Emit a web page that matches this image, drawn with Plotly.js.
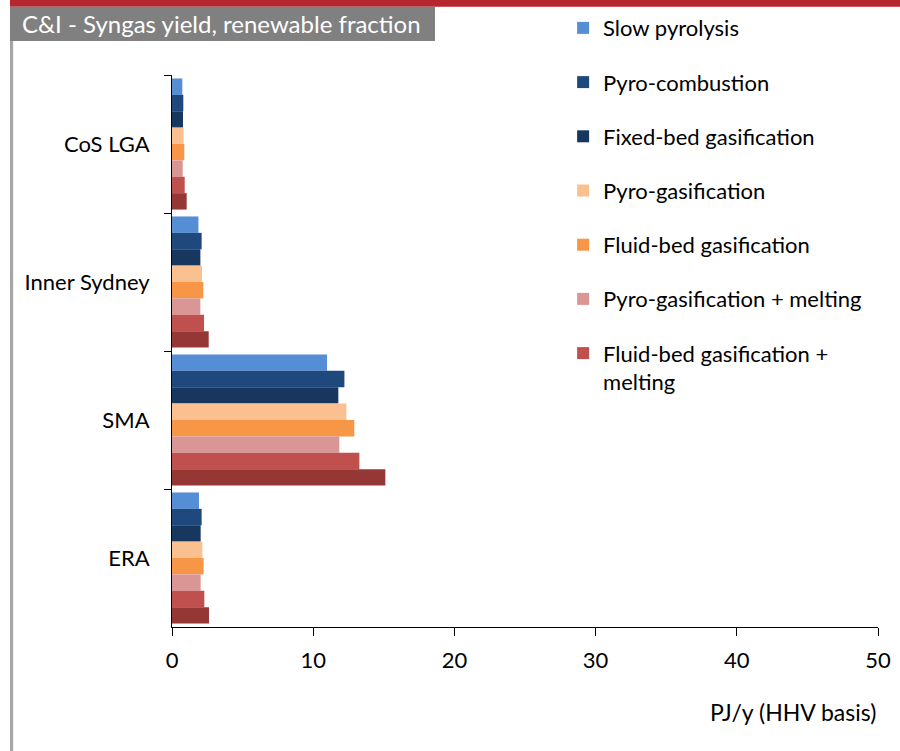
<!DOCTYPE html>
<html>
<head>
<meta charset="utf-8">
<script src="https://cdn.plot.ly/plotly-3.0.1.min.js"></script>
<style>html,body{margin:0;padding:0;background:#fff;}#chart{width:900px;height:751px;}</style>
</head>
<body>
<div id="chart"></div>
<script>
const categories = ["CoS LGA", "Inner Sydney", "SMA", "ERA"];
const seriesNames = [
  "Slow pyrolysis",
  "Pyro-combustion",
  "Fixed-bed gasification",
  "Pyro-gasification",
  "Fluid-bed gasification",
  "Pyro-gasification + melting",
  "Fluid-bed gasification +<br>melting",
  "Plasma gasification"
];
const slowPyrolysis      = [0.73, 1.87, 10.98, 1.91];
const pyroCombustion     = [0.80, 2.10, 12.21, 2.10];
const fixedBed           = [0.78, 2.01, 11.78, 2.03];
const pyroGasification   = [0.82, 2.12, 12.35, 2.15];
const fluidBed           = [0.87, 2.22, 12.91, 2.24];
const pyroGasMelting     = [0.76, 2.01, 11.85, 2.03];
const fluidBedMelting    = [0.90, 2.27, 13.27, 2.29];
const eighthSeries       = [1.04, 2.60, 15.11, 2.62];
const seriesValues = [slowPyrolysis, pyroCombustion, fixedBed, pyroGasification, fluidBed, pyroGasMelting, fluidBedMelting, eighthSeries];
const colors = ["#558ED5", "#1F497D", "#17375E", "#FAC090", "#F79646", "#D99694", "#C0504D", "#953735"];
const xTicks = [0, 10, 20, 30, 40, 50];

const FONT = "Lato, 'Open Sans', sans-serif";

const traces = seriesValues.map((vals, i) => ({
  type: "bar",
  orientation: "h",
  name: seriesNames[i],
  y: categories,
  x: vals,
  marker: {color: colors[i], line: {width: 0}},
  legendgroup: "g" + i,
  showlegend: i < 7,
  hoverinfo: "x+name"
}));

const layout = {
  width: 900, height: 751,
  margin: {l: 172, r: 22, t: 75, b: 124, autoexpand: false},
  paper_bgcolor: "#fff", plot_bgcolor: "#fff",
  font: {family: FONT, size: 22, color: "#000"},
  barmode: "group",
  bargap: 0.05, bargroupgap: 0,
  showlegend: true,
  legend: {
    x: 0.554, y: 1.123, xanchor: "left", yanchor: "top",
    font: {family: FONT, size: 22, color: "#000"},
    tracegroupgap: 22.6, traceorder: "grouped",
    valign: "top",
    maxheight: 700,
    bgcolor: "rgba(0,0,0,0)"
  },
  xaxis: {
    range: [0, 50], tickvals: xTicks, ticktext: xTicks.map(String),
    showgrid: false, zeroline: false,
    showline: true, linecolor: "#000", linewidth: 1,
    ticks: "outside", ticklen: 8, tickcolor: "#000",
    ticklabelstandoff: 6,
    tickfont: {family: FONT, size: 22}
  },
  yaxis: {
    type: "category", categoryorder: "array", categoryarray: categories,
    autorange: "reversed",
    showgrid: false, zeroline: false,
    showline: true, linecolor: "#000", linewidth: 1,
    ticks: "outside", ticklen: 7, tickcolor: "#000",
    tickson: "boundaries",
    ticklabelstandoff: 17,
    tickfont: {family: FONT, size: 22}
  },
  shapes: [
    {type: "rect", xref: "paper", yref: "paper", x0: -0.2295, x1: 1.04, y0: 1.1236, y1: 1.140, fillcolor: "#B5262E", line: {width: 0}, layer: "above"},
    {type: "rect", xref: "paper", yref: "paper", x0: -0.2295, x1: 0.3725, y0: 1.0616, y1: 1.1236, fillcolor: "#808080", line: {width: 0}},
    {type: "rect", xref: "paper", yref: "paper", x0: -0.2295, x1: -0.225, y0: -0.23, y1: 1.0616, fillcolor: "#A6A6A6", line: {width: 0}}
  ],
  annotations: [
    {xref: "paper", yref: "paper", x: -0.215, y: 1.0926, xanchor: "left", yanchor: "middle",
     text: "C&amp;I - Syngas yield, renewable fraction", showarrow: false,
     font: {family: FONT, size: 24, color: "#fff"}},
    {xref: "paper", yref: "paper", x: 1, y: -0.154, xanchor: "right", yanchor: "middle",
     text: "PJ/y (HHV basis)", showarrow: false,
     font: {family: FONT, size: 23, color: "#000"}}
  ]
};

Plotly.newPlot("chart", traces, layout, {displayModeBar: false, staticPlot: true});
</script>
</body>
</html>
